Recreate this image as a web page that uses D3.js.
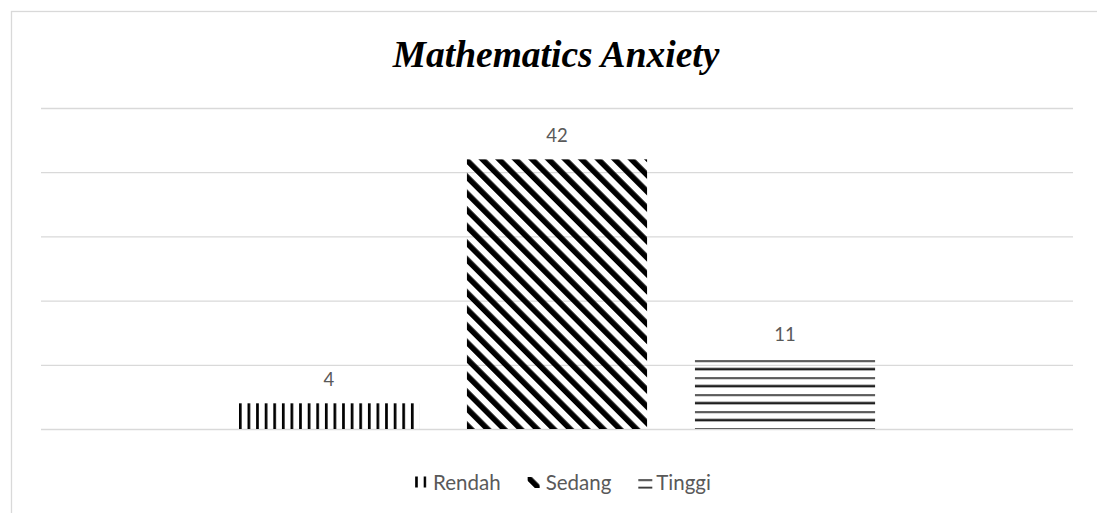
<!DOCTYPE html>
<html>
<head>
<meta charset="utf-8">
<script src="https://cdn.jsdelivr.net/npm/d3@7"></script>
<style>
  html, body { margin: 0; padding: 0; background: #ffffff; }
  svg { display: block; }
</style>
</head>
<body>
<svg id="chart" width="1097" height="513"></svg>
<script>
// ---- data ----
const chartTitle = "Mathematics Anxiety";
const seriesNames = ["Rendah", "Sedang", "Tinggi"];
const seriesValues = [4, 42, 11];
const yTickValues = [0, 10, 20, 30, 40, 50];

// ---- layout ----
const W = 1097, H = 513;
const plot = { left: 41, right: 1073, top: 108, bottom: 429 };
const gridColor = "#d9d9d9";
const textColor = "#595959";
const labelFont = "Lato, 'Open Sans', sans-serif";

const svg = d3.select("#chart");

// fill patterns: vertical lines, wide downward diagonal, horizontal lines
const defs = svg.append("defs");

const pV = defs.append("pattern")
  .attr("id", "pat-Rendah").attr("patternUnits", "userSpaceOnUse")
  .attr("width", 8.6).attr("height", 10);
pV.append("rect").attr("x", 0).attr("y", 0).attr("width", 2.7).attr("height", 10).attr("fill", "#000");

const pD = defs.append("pattern")
  .attr("id", "pat-Sedang").attr("patternUnits", "userSpaceOnUse")
  .attr("width", 11.7).attr("height", 11.7)
  .attr("patternTransform", "rotate(-45)");
pD.append("rect").attr("x", 0).attr("y", 0).attr("width", 5.6).attr("height", 11.7).attr("fill", "#000");

const pH = defs.append("pattern")
  .attr("id", "pat-Tinggi").attr("patternUnits", "userSpaceOnUse")
  .attr("x", 0).attr("y", -0.6)
  .attr("width", 10).attr("height", 17);
pH.append("rect").attr("x", 0).attr("y", 0).attr("width", 10).attr("height", 1.4).attr("fill", "#000");
pH.append("rect").attr("x", 0).attr("y", 7.6).attr("width", 10).attr("height", 2.2).attr("fill", "#000");

// chart frame
svg.append("rect")
  .attr("x", 11.5).attr("y", 11.5)
  .attr("width", 1300).attr("height", 700)
  .attr("fill", "none").attr("stroke", gridColor).attr("stroke-width", 1.3);

// title
svg.append("text")
  .attr("x", 556).attr("y", 67)
  .attr("text-anchor", "middle")
  .attr("font-family", "'Liberation Serif', 'Times New Roman', serif")
  .attr("font-style", "italic").attr("font-weight", "bold")
  .attr("font-size", 37.5).attr("fill", "#000")
  .text(chartTitle);

// scales
const x = d3.scaleBand()
  .domain(seriesNames)
  .range([plot.left, plot.right])
  .paddingInner(0.21)
  .paddingOuter(0.868);

const y = d3.scaleLinear()
  .domain([0, 50])
  .range([plot.bottom, plot.top]);

// gridlines
const grid = svg.append("g")
  .attr("transform", `translate(${plot.left},0)`)
  .call(d3.axisLeft(y).tickValues(yTickValues).tickSize(-(plot.right - plot.left)).tickFormat(""));
grid.select(".domain").remove();
grid.selectAll(".tick line").attr("stroke", gridColor).attr("stroke-width", 1.3);

// bars (each anchored at its bottom-left corner so the fill patterns line up)
const data = seriesNames.map((name, i) => ({ name, value: seriesValues[i] }));

const bars = svg.append("g").selectAll("g.bar")
  .data(data).join("g")
  .attr("class", "bar")
  .attr("transform", d => `translate(${x(d.name)},${y(0)})`);

bars.append("rect")
  .attr("x", 0)
  .attr("y", d => y(d.value) - y(0))
  .attr("width", x.bandwidth())
  .attr("height", d => y(0) - y(d.value))
  .attr("fill", d => `url(#pat-${d.name})`);

// value labels
svg.append("g").selectAll("text")
  .data(data).join("text")
  .attr("x", d => x(d.name) + x.bandwidth() / 2)
  .attr("y", d => y(d.value) - 17)
  .attr("text-anchor", "middle")
  .attr("font-family", labelFont)
  .attr("font-size", 18.5)
  .attr("fill", textColor)
  .text(d => d.value);

// legend
const legend = svg.append("g");
const swatchW = 11, swatchGap = 7, itemGap = 27, legendBase = 490;
const items = legend.selectAll("g.item").data(data).join("g").attr("class", "item");
items.append("text")
  .attr("font-family", labelFont)
  .attr("font-size", 20.5)
  .attr("fill", textColor)
  .attr("y", legendBase)
  .text(d => d.name);

let widths = [];
items.select("text").each(function () { widths.push(this.getComputedTextLength()); });
const total = d3.sum(widths) + data.length * (swatchW + swatchGap) + (data.length - 1) * itemGap;
let cx = 563 - total / 2;
items.each(function (d, i) {
  const g = d3.select(this);
  const sx = cx;
  g.select("text").attr("x", sx + swatchW + swatchGap);
  const sw = g.append("g");
  if (d.name === "Rendah") {
    sw.attr("transform", `translate(${sx},476.5)`);
    sw.append("rect").attr("x", 0).attr("y", 0).attr("width", 11.3).attr("height", 11).attr("fill", `url(#pat-${d.name})`);
  } else if (d.name === "Sedang") {
    sw.attr("transform", `translate(${sx - 3.9},477)`);
    sw.append("rect").attr("x", 3.9).attr("y", 0).attr("width", 12).attr("height", 11).attr("fill", `url(#pat-${d.name})`);
  } else {
    sw.attr("transform", `translate(${sx},480)`);
    sw.append("rect").attr("x", 0).attr("y", -1.5).attr("width", 14).attr("height", 10).attr("fill", `url(#pat-${d.name})`);
  }
  cx += swatchW + swatchGap + widths[i] + itemGap;
});
</script>
</body>
</html>
